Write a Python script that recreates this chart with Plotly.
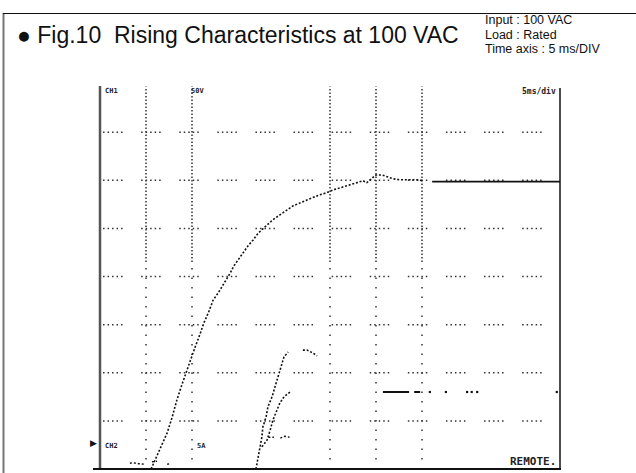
import plotly.graph_objects as go

# ---------------- data (time in ms, 5 ms/div; level in divisions) ----------------
out_t = [5.55, 6.0, 6.3, 6.75, 7.3, 7.85, 8.35, 8.9, 9.45, 9.9, 10.35, 10.85, 11.3, 11.85,
         12.3, 12.85, 13.25, 13.7, 14.15, 14.55, 15.0, 15.55, 16.1, 16.65, 17.15, 17.7,
         18.25, 18.8, 19.55, 20.35, 21.0, 21.75, 22.5, 23.15, 23.9, 24.65, 25.35, 26.4,
         27.15, 27.95, 28.6, 29.0, 30.0, 30.65, 31.2, 31.85, 32.6, 33.5, 34.35, 35.1]
out_v = [0.00, 0.19, 0.35, 0.54, 0.75, 1.08, 1.43, 1.75, 2.06, 2.31, 2.54, 2.79, 3.04, 3.28,
         3.51, 3.66, 3.78, 3.93, 4.07, 4.22, 4.35, 4.49, 4.64, 4.76, 4.89, 4.99,
         5.09, 5.18, 5.28, 5.38, 5.47, 5.53, 5.59, 5.65, 5.70, 5.74, 5.80, 5.86,
         5.90, 5.95, 5.99, 5.95, 6.11, 6.11, 6.07, 6.03, 6.01, 6.01, 6.01, 5.99]
settled_t = [36.1, 50.0]
settled_v = [5.97, 5.97]

ch2_t = [16.95, 17.15, 17.4, 17.6, 17.7, 18.05, 18.25, 18.7, 19.0, 19.35, 19.55, 19.8, 20.0,
         20.45, None, 22.05, 22.5, 23.15, 23.6]
ch2_v = [0.00, 0.25, 0.46, 0.67, 0.87, 1.08, 1.29, 1.50, 1.70, 1.91, 2.06, 2.20, 2.33,
         2.43, None, 2.47, 2.47, 2.41, 2.35]

ch3_t = [17.6, 18.15, 18.5, 18.8, 19.25, 19.55, 20.0, 20.65]
ch3_v = [0.46, 0.60, 0.81, 1.02, 1.23, 1.37, 1.50, 1.60]
ch3_flat_t = [30.75, 33.6, None, 34.15, 34.8]
ch3_flat_v = [1.60, 1.60, None, 1.60, 1.60]
ch3_dot_t = [35.85, 37.6, 39.9, 40.4, 41.0, 49.65]
ch3_dot_v = [1.60, 1.60, 1.60, 1.60, 1.60, 1.60]

noise_t = [3.25, 3.6, 4.2, 4.9, None, 5.65, 6.2, None, 7.3, 7.6, None, 18.3, 18.9, None, 19.6, 20.1, 20.6]
noise_v = [0.12, 0.13, 0.11, 0.10, None, 0.15, 0.16, None, 0.10, 0.11, None, 0.66, 0.66, None, 0.64, 0.68, 0.66]

grid_t = [5, 10, 25, 30, 35]
grid_v = [1, 2, 3, 4, 5, 6, 7]

title_text = "● Fig.10  Rising Characteristics at 100 VAC"
cond_lines = ["Input : 100 VAC", "Load : Rated", "Time axis : 5 ms/DIV"]

# ---------------- layout helpers ----------------
W, H = 636, 473
L, R, T, B = 100, 76, 84, 4
PW, PH = W - L - R, H - T - B


def px(x):
    return (x - L) / PW


def py(y):
    return (H - B - y) / PH


fig = go.Figure()

dash_style = "2px,1.8px"
fig.add_trace(go.Scatter(x=out_t, y=out_v, mode="lines",
                         line=dict(color="#111", width=1.6, dash=dash_style), hoverinfo="skip"))
fig.add_trace(go.Scatter(x=settled_t, y=settled_v, mode="lines",
                         line=dict(color="#111", width=1.8), hoverinfo="skip"))
fig.add_trace(go.Scatter(x=ch2_t, y=ch2_v, mode="lines",
                         line=dict(color="#111", width=1.6, dash=dash_style), hoverinfo="skip"))
fig.add_trace(go.Scatter(x=ch3_t, y=ch3_v, mode="lines",
                         line=dict(color="#111", width=1.6, dash=dash_style), hoverinfo="skip"))
fig.add_trace(go.Scatter(x=ch3_flat_t, y=ch3_flat_v, mode="lines",
                         line=dict(color="#111", width=2), hoverinfo="skip"))
fig.add_trace(go.Scatter(x=ch3_dot_t, y=ch3_dot_v, mode="markers",
                         marker=dict(color="#111", size=2.2, symbol="square"), hoverinfo="skip"))
fig.add_trace(go.Scatter(x=noise_t, y=noise_v, mode="lines",
                         line=dict(color="#111", width=1.4, dash="2px,2px"), hoverinfo="skip"))

shapes = []
# horizontal grid lines (segments of dots)
hdash = "1.5px,3px,1.5px,3px,1.5px,3px,1.5px,3px,1.5px,18.6px"
for v in grid_v:
    shapes.append(dict(type="line", xref="x", yref="y", x0=0.33, x1=50, y0=v, y1=v,
                       line=dict(color="#333", width=1.5, dash=hdash), layer="below"))
# vertical grid lines (dense upper part, sparse lower part)
for t in grid_t:
    shapes.append(dict(type="line", xref="x", yref="y", x0=t, x1=t, y0=4.3, y1=7.95,
                       line=dict(color="#333", width=1.5, dash="1.5px,2px"), layer="below"))
    shapes.append(dict(type="line", xref="x", yref="y", x0=t, x1=t, y0=0.2, y1=4.3,
                       line=dict(color="#333", width=1.5, dash="1.5px,8px"), layer="below"))

# scope frame
shapes.append(dict(type="line", xref="paper", yref="paper", x0=px(100), x1=px(100),
                   y0=py(469), y1=py(86), line=dict(color="#555", width=2.5)))
shapes.append(dict(type="line", xref="paper", yref="paper", x0=px(93), x1=px(561),
                   y0=py(469), y1=py(469), line=dict(color="#111", width=2)))
shapes.append(dict(type="line", xref="paper", yref="paper", x0=px(560), x1=px(560),
                   y0=py(469), y1=py(88), line=dict(color="#111", width=1.5)))
# outer page frame
shapes.append(dict(type="line", xref="paper", yref="paper", x0=px(3.5), x1=px(3.5),
                   y0=py(473), y1=py(13), line=dict(color="#777", width=2)))
shapes.append(dict(type="line", xref="paper", yref="paper", x0=px(3), x1=px(636),
                   y0=py(13.5), y1=py(13.5), line=dict(color="#111", width=1)))

annotations = []
annotations.append(dict(text=title_text, xref="paper", yref="paper", x=px(15), y=py(35),
                        xanchor="left", yanchor="middle", showarrow=False,
                        font=dict(family="Liberation Sans, Arial", size=23, color="#111")))
for i, line in enumerate(cond_lines):
    annotations.append(dict(text=line, xref="paper", yref="paper", x=px(484), y=py(20 + 14.5 * i),
                            xanchor="left", yanchor="middle", showarrow=False, borderpad=0,
                            font=dict(family="Liberation Sans, Arial", size=12.5, color="#111")))

mono = "DejaVu Sans Mono, Liberation Mono, monospace"
small = [("5ms/div", 558, 91, "right", 8), ("REMOTE.", 558, 461, "right", 11),
         ("CH1", 103, 91, "left", 7), ("50V", 189, 91, "left", 7),
         ("CH2", 103, 446, "left", 7), ("5A", 195, 446, "left", 7)]
for txt, x, y, anc, sz in small:
    annotations.append(dict(text="<b>" + txt + "</b>", xref="paper", yref="paper", x=px(x), y=py(y),
                            xanchor=anc, yanchor="middle", showarrow=False,
                            font=dict(family=mono, size=sz, color="#222")))
annotations.append(dict(text="▶", xref="paper", yref="paper", x=px(99), y=py(443),
                        xanchor="right", yanchor="middle", showarrow=False,
                        font=dict(family="DejaVu Sans", size=9, color="#111")))

fig.update_layout(
    width=W, height=H, autosize=False,
    margin=dict(l=L, r=R, t=T, b=B, pad=0),
    paper_bgcolor="white", plot_bgcolor="white",
    showlegend=False,
    xaxis=dict(range=[0, 50], visible=False, fixedrange=True),
    yaxis=dict(range=[0, 8], visible=False, fixedrange=True),
    shapes=shapes, annotations=annotations,
)

fig.write_html("out.html", config={"displayModeBar": False},
               post_script="document.body.style.margin='0';document.body.style.overflow='hidden';")
